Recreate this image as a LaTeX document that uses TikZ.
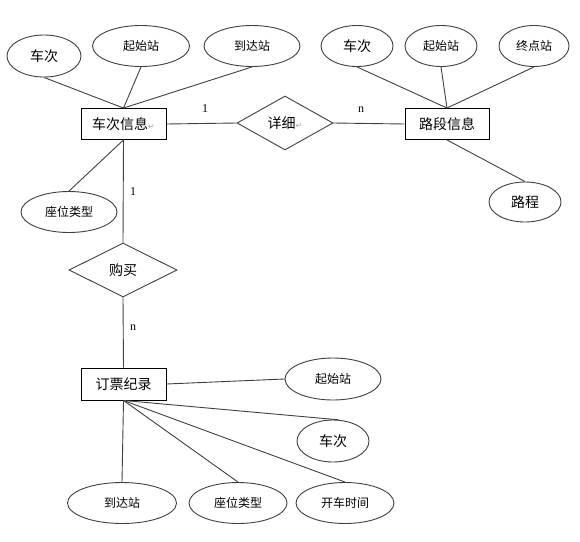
\documentclass[tikz,border=0pt]{standalone}
\usepackage{fontspec}
\setmainfont{Liberation Serif}
\newfontfamily\cjk{Noto Sans CJK SC}
\newfontfamily\dvs{DejaVu Sans}
\usetikzlibrary{shapes.geometric}
\definecolor{ln}{HTML}{404040}
\newcommand{\pmark}{{\dvs\fontsize{8}{8}\selectfont\textcolor{gray!70}{↵}}}
\tikzset{
  attr/.style={ellipse, draw=ln, line width=0.9pt, inner sep=0pt, font=\cjk\fontsize{12}{12}\selectfont},
  attrbig/.style={attr, font=\cjk\fontsize{14}{14}\selectfont},
  ent/.style={rectangle, draw=black, line width=0.9pt, inner sep=0pt, minimum height=31pt, font=\cjk\fontsize{14}{14}\selectfont},
  rel/.style={diamond, draw=ln, line width=0.9pt, inner sep=0pt, aspect=1.8, font=\cjk\fontsize{14}{14}\selectfont},
  conn/.style={draw=ln, line width=0.9pt},
  card/.style={font=\fontsize{12}{12}\selectfont, inner sep=0pt}
}
\begin{document}
\begin{tikzpicture}[x=1pt,y=-1pt]
\useasboundingbox[fill=white] (0,0) rectangle (580,541);
% entities
\node[ent, minimum width=85pt] (cx) at (123.5,124) {车次信息\pmark};
\node[ent, minimum width=84pt] (ld) at (447,124) {路段信息};
\node[ent, minimum width=85pt, minimum height=32pt] (dp) at (123.5,384) {订票纪录};
% relations
\node[rel, minimum width=96pt, minimum height=54pt] (xx) at (285,123) {详细\pmark};
\node[rel, minimum width=108pt, minimum height=54pt] (gm) at (123,270) {购买};
% attributes of 车次信息
\node[attrbig, minimum width=74pt, minimum height=42pt] (a1) at (44,56) {车次};
\node[attr, minimum width=97pt, minimum height=41pt] (a2) at (141,46) {起始站};
\node[attr, minimum width=96pt, minimum height=41pt] (a3) at (252,46) {到达站};
\node[attr, minimum width=96pt, minimum height=41pt] (a4) at (69,212) {座位类型};
% attributes of 路段信息
\node[attrbig, minimum width=72pt, minimum height=41pt] (b1) at (357,46) {车次};
\node[attr, minimum width=72pt, minimum height=41pt] (b2) at (441,46) {起始站};
\node[attr, minimum width=70pt, minimum height=41pt] (b3) at (534,46) {终点站};
\node[attrbig, minimum width=72pt, minimum height=40pt] (b4) at (525,202) {路程};
% attributes of 订票纪录
\node[attr, minimum width=96pt, minimum height=42pt] (c1) at (333,379) {起始站};
\node[attrbig, minimum width=72pt, minimum height=42pt] (c2) at (333,441) {车次};
\node[attr, minimum width=109pt, minimum height=41pt] (c3) at (122,503) {到达站};
\node[attr, minimum width=98pt, minimum height=41pt] (c4) at (238,503) {座位类型};
\node[attr, minimum width=98pt, minimum height=41pt] (c5) at (345,503) {开车时间};
% connectors
\draw[conn] (a1.south) -- (cx.north);
\draw[conn] (a2.south) -- (cx.north);
\draw[conn] (a3.south) -- (cx.north);
\draw[conn] (cx.south) -- (a4.north);
\draw[conn] (b1.south) -- (ld.north);
\draw[conn] (b2.south) -- (ld.north);
\draw[conn] (b3.south) -- (ld.north);
\draw[conn] (ld.south) -- (b4.north);
\draw[conn] (cx.east) -- (xx.west);
\draw[conn] (xx.east) -- (ld.west);
\draw[conn] (cx.south) -- (gm.north);
\draw[conn] (gm.south) -- (dp.north);
\draw[conn] (dp.east) -- (c1.west);
\draw[conn] (dp.south) -- (c2.75);
\draw[conn] (dp.south) -- (c3.north);
\draw[conn] (dp.south) -- (c4.north);
\draw[conn] (dp.south) -- (c5.north);
% cardinalities
\node[card] (k1) at (205,109) {1};
\node[card] (k2) at (361,110) {n};
\node[card] (k3) at (133,192) {1};
\node[card] (k4) at (133,328) {n};
\end{tikzpicture}
\end{document}
